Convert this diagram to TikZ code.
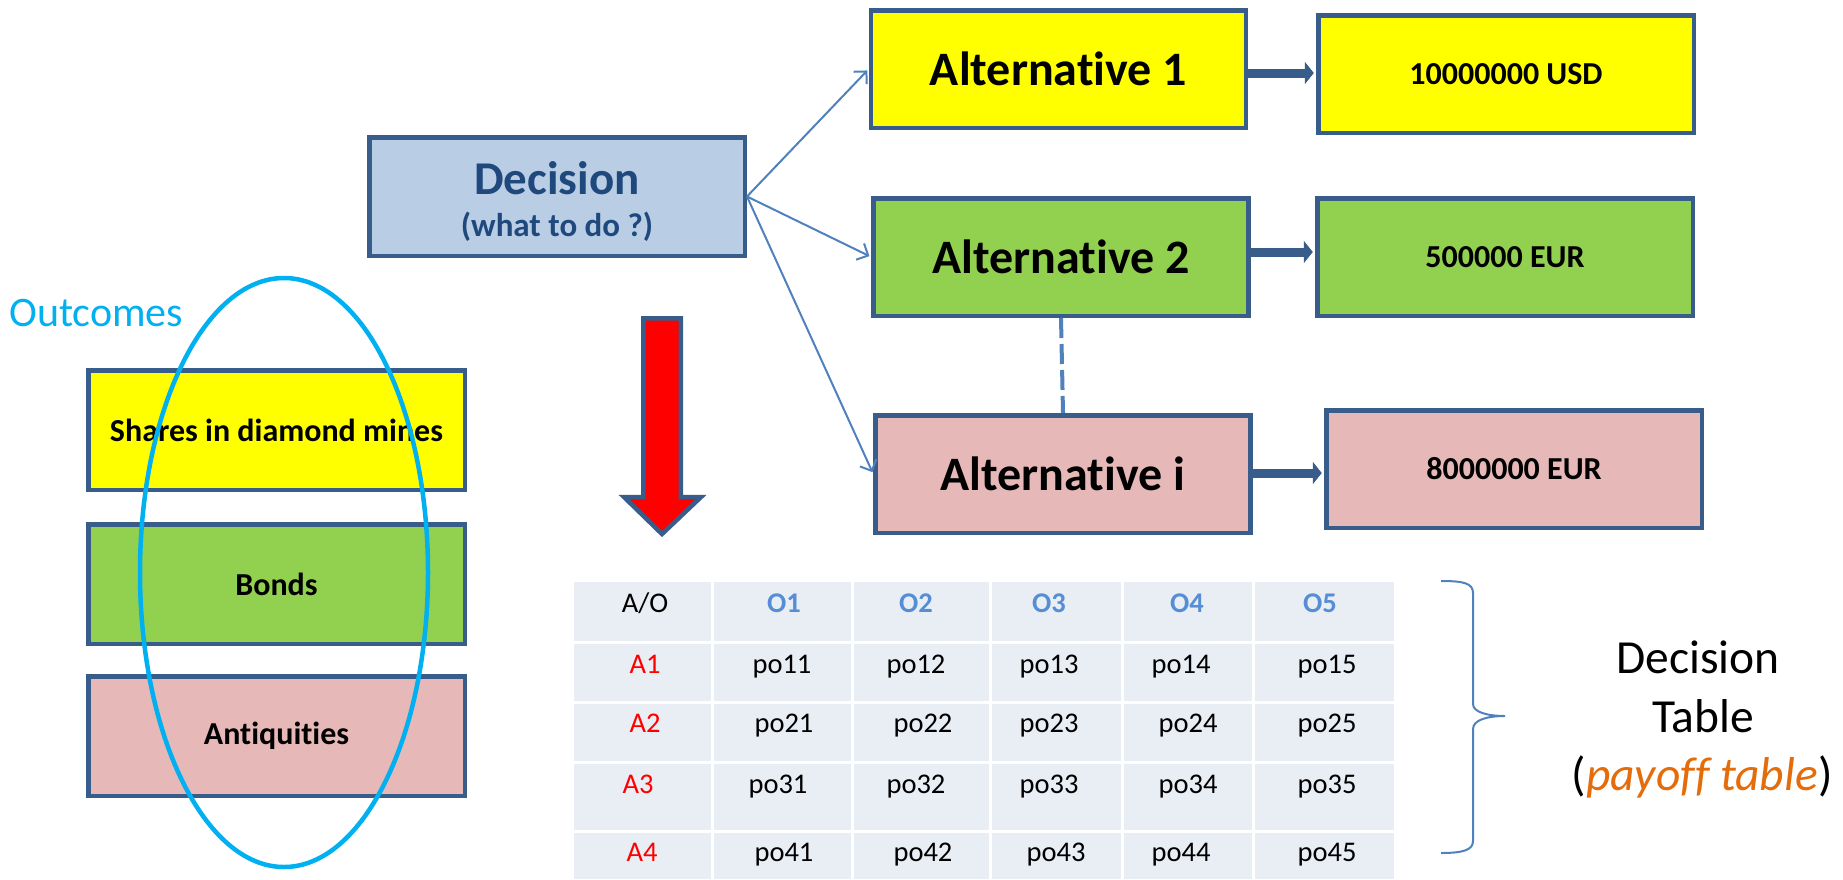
\documentclass[tikz,border=0pt]{standalone}
\usepackage{fontspec}
\setmainfont{Carlito}[Ligatures=NoCommon]
\usetikzlibrary{arrows.meta}
\definecolor{bord}{RGB}{56,93,138}
\definecolor{ylw}{RGB}{255,255,0}
\definecolor{grn}{RGB}{146,208,80}
\definecolor{pnk}{RGB}{230,185,184}
\definecolor{lblue}{RGB}{185,205,229}
\definecolor{dblue}{RGB}{31,73,125}
\definecolor{lnblue}{RGB}{79,129,189}
\definecolor{cyanc}{RGB}{0,176,240}
\definecolor{cellc}{RGB}{233,237,244}
\definecolor{hdr}{RGB}{85,142,213}
\definecolor{orng}{RGB}{228,108,10}
\begin{document}
\begin{tikzpicture}[x=1pt,y=-1pt,
  box/.style={draw=bord, line width=4.5pt, inner sep=0pt},
  altbox/.style={box, minimum width=375pt, minimum height=117.5pt, font=\fontsize{48}{52}\selectfont\bfseries},
  valbox/.style={box, minimum width=375.5pt, minimum height=117.5pt, font=\fontsize{32}{36}\selectfont\bfseries},
  outbox/.style={box, minimum width=376.5pt, minimum height=119.5pt, font=\fontsize{32}{36}\selectfont\bfseries},
  thinarrow/.style={lnblue, line width=2pt, -{Straight Barb[length=9pt,width=18pt]}, shorten >=2pt},
  thickarrow/.style={bord, line width=9pt, -{Triangle[length=9pt,width=22pt]}, shorten >=2.25pt},
  cellt/.style={anchor=base, inner sep=0pt, font=\fontsize{28.5}{31}\selectfont},
  rowt/.style={cellt, text=red},
  colt/.style={cellt, text=hdr, font=\fontsize{28.5}{31}\selectfont\bfseries},
  bigt/.style={anchor=base, inner sep=0pt, font=\fontsize{47.5}{50}\selectfont}
]
\useasboundingbox (0,0) rectangle (1843,879);

% Decision box
\node[box, fill=lblue, minimum width=375.5pt, minimum height=118.5pt] (dec) at (557,196.5) {};
\node[anchor=base, inner sep=0pt, text=dblue, font=\fontsize{47}{50}\selectfont\bfseries] (dect1) at (557,194) {Decision};
\node[anchor=base, inner sep=0pt, text=dblue, font=\fontsize{33}{36}\selectfont\bfseries] (dect2) at (557,236) {(what to do ?)};

% Alternatives
\node[altbox, fill=ylw] (a1) at (1058.5,69) {Alternative 1};
\node[altbox, fill=grn] (a2) at (1061,257) {Alternative 2};
\node[altbox, fill=pnk] (ai) at (1063,474) {Alternative i};

% Values
\node[valbox, fill=ylw] (v1) at (1506,74) {10000000 USD};
\node[valbox, fill=grn] (v2) at (1505,257) {500000 EUR};
\node[valbox, fill=pnk] (v3) at (1514,469) {8000000 EUR};

% connectors
\draw[thinarrow] (dec.east) -- (a1.west);
\draw[thinarrow] (dec.east) -- (a2.west);
\draw[thinarrow] (dec.east) -- (ai.west);
\draw[lnblue, line width=4pt, dash pattern=on 20pt off 6pt] (a2.south) -- (ai.north);

\coordinate (r1) at (0,73);
\coordinate (r2) at (0,252);
\coordinate (r3) at (0,473);
\draw[thickarrow] (a1.east |- r1) -- (v1.west |- r1);
\draw[thickarrow] (a2.east |- r2) -- (v2.west |- r2);
\draw[thickarrow] (ai.east |- r3) -- (v3.west |- r3);

% red arrow
\draw[fill=red, draw=bord, line width=4.5pt, line join=miter]
  (643.25,318.25) -- (680.75,318.25) -- (680.75,497) -- (701,497) -- (662,534)
  -- (624,497) -- (643.25,497) -- cycle;

% Outcomes
\node[anchor=base west, inner sep=0pt, text=cyanc, font=\fontsize{42}{44}\selectfont] (outc) at (9,326) {Outcomes};
\node[outbox, fill=ylw] (o1) at (276.5,430) {Shares in diamond mines};
\node[outbox, fill=grn] (o2) at (276.5,584) {Bonds};
\node[outbox, fill=pnk] (o3) at (276.5,736) {Antiquities};
\draw[cyanc, line width=4.5pt] (284,572.5) ellipse [x radius=144pt, y radius=294.5pt];

% Table
\fill[cellc] (574,582) rectangle (1394,879);
\foreach \xx in {712,852,990,1122,1253}
  \draw[white, line width=3pt] (\xx,582) -- (\xx,879);
\foreach \yy in {642,702,762,831}
  \draw[white, line width=3pt] (574,\yy) -- (1394,\yy);

\node[cellt] (h0) at (645,612) {A/O};
\node[colt] (h1) at (784,612) {O1};
\node[colt] (h2) at (916,612) {O2};
\node[colt] (h3) at (1049,612) {O3};
\node[colt] (h4) at (1187,612) {O4};
\node[colt] (h5) at (1320,612) {O5};

\node[rowt] (ra1) at (645,673) {A1};
\node[cellt] (c11) at (782,673) {po11};
\node[cellt] (c12) at (916,673) {po12};
\node[cellt] (c13) at (1049,673) {po13};
\node[cellt] (c14) at (1181,673) {po14};
\node[cellt] (c15) at (1327,673) {po15};

\node[rowt] (ra2) at (645,732) {A2};
\node[cellt] (c21) at (784,732) {po21};
\node[cellt] (c22) at (923,732) {po22};
\node[cellt] (c23) at (1049,732) {po23};
\node[cellt] (c24) at (1188,732) {po24};
\node[cellt] (c25) at (1327,732) {po25};

\node[rowt] (ra3) at (638,793) {A3};
\node[cellt] (c31) at (778,793) {po31};
\node[cellt] (c32) at (916,793) {po32};
\node[cellt] (c33) at (1049,793) {po33};
\node[cellt] (c34) at (1188,793) {po34};
\node[cellt] (c35) at (1327,793) {po35};

\node[rowt] (ra4) at (642,861) {A4};
\node[cellt] (c41) at (784,861) {po41};
\node[cellt] (c42) at (923,861) {po42};
\node[cellt] (c43) at (1056,861) {po43};
\node[cellt] (c44) at (1181,861) {po44};
\node[cellt] (c45) at (1327,861) {po45};

% brace
\draw[lnblue, line width=2pt]
  (1441,581) .. controls (1463,581) and (1473,583) .. (1473,593)
  -- (1473,704) .. controls (1473,712) and (1487,716) .. (1505,716)
  .. controls (1487,716) and (1473,720) .. (1473,729)
  -- (1473,841) .. controls (1473,850) and (1463,853) .. (1441,853);

\node[bigt] (dt1) at (1698,673) {Decision};
\node[bigt] (dt2) at (1703,732) {Table};
\node[bigt] (dt3) at (1702,790) {(\textcolor{orng}{\itshape payoff table})};
\end{tikzpicture}
\end{document}
